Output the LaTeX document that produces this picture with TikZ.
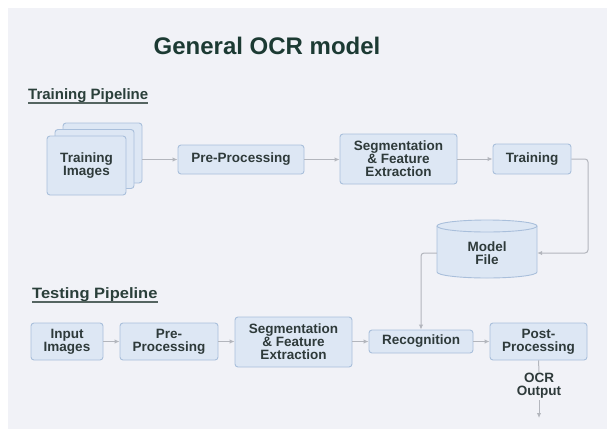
\documentclass[tikz,border=0pt]{standalone}
\usepackage{fontspec}
\setmainfont{Liberation Sans}
\usetikzlibrary{arrows.meta}
\definecolor{bgpanel}{HTML}{F1F2F7}
\definecolor{boxfill}{HTML}{DDE7F4}
\definecolor{boxline}{HTML}{A9BFDB}
\definecolor{arrowgray}{HTML}{B3B6BD}
\definecolor{txt}{HTML}{2E3A3A}
\definecolor{titlegreen}{HTML}{1C3A33}
\definecolor{headgreen}{HTML}{2A3F3A}
\begin{document}
\begin{tikzpicture}[x=1pt,y=-1pt,
  boxtext/.style={font=\fontsize{13.5}{13}\selectfont\bfseries, text=txt, align=center},
  box/.style={boxtext, draw=boxline, fill=boxfill, rounded corners=3pt, line width=0.9pt, inner sep=0pt},
  arr/.style={draw=arrowgray, line width=1pt, -{Latex[length=5pt,width=4.5pt]}},
  ln/.style={draw=arrowgray, line width=1pt},
  heading/.style={anchor=base west, inner sep=0pt, font=\fontsize{15}{18}\selectfont\bfseries, text=headgreen},
  uline/.style={draw=headgreen!80, line width=1.4pt}]

\useasboundingbox (0,0) rectangle (607,429);
\fill[white] (0,0) rectangle (607,429);
\fill[bgpanel] (8,8) rectangle (607,429);

% title
\node[anchor=base, inner sep=0pt, font=\fontsize{24}{28}\selectfont\bfseries, text=titlegreen] (title) at (267,54) {General OCR model};

% headings
\node[heading] (trainhead) at (28,99) {Training Pipeline};
\draw[uline] ([yshift=-4pt]trainhead.base west) -- ([yshift=-4pt]trainhead.base east);
\node[heading] (testhead) at (32,298) {\scalebox{1.1}[1]{Testing Pipeline}};
\draw[uline] ([yshift=-4pt]testhead.base west) -- ([yshift=-4pt]testhead.base east);

% training pipeline
\node[box, minimum width=79pt, minimum height=60pt] (img3) at (102.5,153) {};
\node[box, minimum width=79pt, minimum height=59pt] (img2) at (94.5,159) {};
\node[box, minimum width=79pt, minimum height=59pt] (img1) at (86.5,165.5) {Training\\Images};
\node[box, minimum width=126pt, minimum height=29pt] (pre1) at (241,159.5) {Pre-Processing};
\node[box, minimum width=117pt, minimum height=50pt] (seg1) at (398.5,159) {Segmentation\\\& Feature\\Extraction};
\node[box, minimum width=78pt, minimum height=30pt] (train) at (532,159) {Training};

% model file cylinder
\fill[boxfill] (437,226) -- (437,272) arc[start angle=180, end angle=360, x radius=50pt, y radius=6pt] -- (537,226) -- cycle;
\draw[boxline, line width=0.9pt] (437,226) -- (437,272) arc[start angle=180, end angle=360, x radius=50pt, y radius=6pt] -- (537,226);
\draw[boxline, fill=boxfill, line width=0.9pt] (487,226) ellipse[x radius=50pt, y radius=6pt];
\node[boxtext, minimum width=100pt, minimum height=40pt, inner sep=0pt] (model) at (487,253) {Model\\File};

% testing pipeline
\node[box, minimum width=72pt, minimum height=37pt] (in) at (67,341.5) {Input\\Images};
\node[box, minimum width=98pt, minimum height=37pt] (pre2) at (169,341.5) {Pre-\\Processing};
\node[box, minimum width=117pt, minimum height=50pt] (seg2) at (293.5,342) {Segmentation\\\& Feature\\Extraction};
\node[box, minimum width=104pt, minimum height=23pt] (rec) at (421,341.5) {Recognition};
\node[box, minimum width=97pt, minimum height=37pt] (post) at (538.5,341.5) {Post-\\Processing};
\node[boxtext, inner sep=0pt, minimum height=28pt] (ocr) at (539,386) {OCR\\Output};
\coordinate (outend) at (539,418);
\coordinate (bend) at (588,159);

% connectors
\draw[arr] (img3.east |- pre1) -- (pre1);
\draw[arr] (pre1) -- (seg1.west |- pre1);
\draw[arr] (seg1.east |- train) -- (train);
\draw[arr, rounded corners=3pt] (train.east) -- (bend) |- (model.east);
\draw[arr, rounded corners=3pt] (model.west) -| (rec.north);
\draw[arr] (in) -- (pre2);
\draw[arr] (pre2) -- (seg2.west |- pre2);
\draw[arr] (seg2.east |- rec) -- (rec);
\draw[arr] (rec) -- (post);
\draw[ln] (post.south) -- (ocr.north);
\draw[arr] (ocr.south) -- (outend);
\end{tikzpicture}
\end{document}
